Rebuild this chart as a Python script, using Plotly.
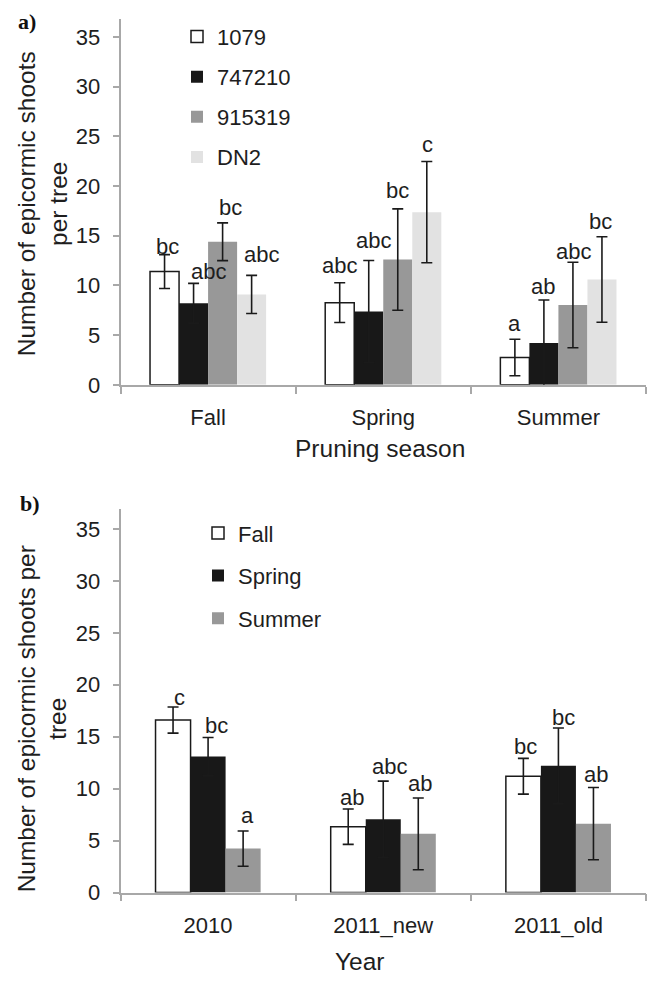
import plotly.graph_objects as go

# ---------------- data ----------------
seasons = ["Fall", "Spring", "Summer"]
clones = ["1079", "747210", "915319", "DN2"]
# means per clone across seasons
mean_1079 = [11.4, 8.27, 2.75]
mean_747210 = [8.21, 7.38, 4.2]
mean_915319 = [14.4, 12.61, 8.04]
mean_DN2 = [9.1, 17.38, 10.6]
err_1079 = [1.7, 2.0, 1.84]
err_747210 = [2.0, 5.13, 4.34]
err_915319 = [1.9, 5.1, 4.3]
err_DN2 = [1.92, 5.1, 4.3]
letters_1079 = ["bc", "abc", "a"]
letters_747210 = ["abc", "abc", "ab"]
letters_915319 = ["bc", "bc", "abc"]
letters_DN2 = ["abc", "c", "bc"]
# vertical position (data units) of the significance letters
lab_y_1079 = [13.9, 11.99, 6.13]
lab_y_747210 = [11.42, 14.57, 9.86]
lab_y_915319 = [17.8, 19.53, 13.41]
lab_y_DN2 = [13.08, 24.16, 16.48]

years = ["2010", "2011_new", "2011_old"]
season_names = ["Fall", "Spring", "Summer"]
mean_fall = [16.6, 6.34, 11.19]
mean_spring = [13.09, 7.05, 12.2]
mean_summer = [4.23, 5.65, 6.63]
err_fall = [1.26, 1.7, 1.72]
err_spring = [1.84, 3.67, 3.64]
err_summer = [1.7, 3.45, 3.48]
letters_fall = ["c", "ab", "bc"]
letters_spring = ["bc", "abc", "bc"]
letters_summer = ["a", "ab", "ab"]
lab_y_fall = [18.78, 9.14, 14.1]
lab_y_spring = [16.1, 12.14, 16.83]
lab_y_summer = [7.39, 10.49, 11.35]

y_ticks = [0, 5, 10, 15, 20, 25, 30, 35]

# ---------------- styling ----------------
W, H = 648, 984
FONT = "Liberation Sans, Arial, sans-serif"
SERIF = "Liberation Serif, Times New Roman, serif"
TXT = "#1e1e1e"
AXC = "#a8a8a8"
colors_a = ["#ffffff", "#181818", "#989898", "#e2e2e2"]
colors_b = ["#ffffff", "#181818", "#989898"]
TICK_SIZE = 22
TITLE_SIZE = 24.5

x0p, x1p = 120.5 / W, 646 / W
dom_a = [1 - 390 / H, 1 - 19 / H]
dom_b = [1 - 904.5 / H, 1 - 516 / H]

fig = go.Figure()

# panel a bars
bw_a = 0.1657
offs_a = [-2 * bw_a, -bw_a, 0, bw_a]
means_a = [mean_1079, mean_747210, mean_915319, mean_DN2]
errs_a = [err_1079, err_747210, err_915319, err_DN2]
lets_a = [letters_1079, letters_747210, letters_915319, letters_DN2]
laby_a = [lab_y_1079, lab_y_747210, lab_y_915319, lab_y_DN2]
lab_dx_a = [[2.5, 0, 0], [14.5, 5, -1], [7.5, 0, 1], [9.5, 1, -1]]

for i, name in enumerate(clones):
    fig.add_trace(go.Bar(
        x=seasons, y=means_a[i], name=name, xaxis="x", yaxis="y",
        width=bw_a, offset=offs_a[i],
        marker=dict(color=colors_a[i],
                    line=dict(color="#1a1a1a" if i == 0 else colors_a[i], width=1.5 if i == 0 else 0)),
        error_y=dict(type="data", array=errs_a[i], visible=True, color="#1a1a1a",
                     thickness=1.6, width=5.5),
        legend="legend", legendgroup=name,
    ))

# panel b bars
bw_b = 0.2
offs_b = [-0.3, -0.1, 0.1]
means_b = [mean_fall, mean_spring, mean_summer]
errs_b = [err_fall, err_spring, err_summer]
lets_b = [letters_fall, letters_spring, letters_summer]
laby_b = [lab_y_fall, lab_y_spring, lab_y_summer]
lab_dx_b = [[6.5, 4, 2], [8.5, 6, 4.7], [4.5, 2, 2.8]]

for i, name in enumerate(season_names):
    fig.add_trace(go.Bar(
        x=years, y=means_b[i], name=name, xaxis="x2", yaxis="y2",
        width=bw_b, offset=offs_b[i],
        marker=dict(color=colors_b[i],
                    line=dict(color="#1a1a1a" if i == 0 else colors_b[i], width=1.5 if i == 0 else 0)),
        error_y=dict(type="data", array=errs_b[i], visible=True, color="#1a1a1a",
                     thickness=1.6, width=5.5),
        legend="legend2", legendgroup="b" + name,
    ))

annotations = []
for i in range(len(clones)):
    for j in range(len(seasons)):
        annotations.append(dict(
            x=j + offs_a[i] + bw_a / 2, y=laby_a[i][j], xref="x", yref="y",
            text=lets_a[i][j], showarrow=False, xshift=lab_dx_a[i][j],
            font=dict(family=FONT, size=TICK_SIZE, color=TXT),
            xanchor="center", yanchor="middle"))
for i in range(len(season_names)):
    for j in range(len(years)):
        annotations.append(dict(
            x=j + offs_b[i] + bw_b / 2, y=laby_b[i][j], xref="x2", yref="y2",
            text=lets_b[i][j], showarrow=False, xshift=lab_dx_b[i][j],
            font=dict(family=FONT, size=TICK_SIZE, color=TXT),
            xanchor="center", yanchor="middle"))

# axis titles and panel labels
def paper_note(text, px, py, size, family=FONT, angle=0, color=TXT):
    return dict(text=text, x=px / W, y=1 - py / H, xref="paper", yref="paper",
                showarrow=False, textangle=angle, xanchor="center", yanchor="middle",
                font=dict(family=family, size=size, color=color))

annotations += [
    paper_note("Pruning season", 380, 454, TITLE_SIZE),
    paper_note("Year", 360, 974, TITLE_SIZE),
    paper_note("Number of epicormic shoots<br>per tree", 42, 207, TITLE_SIZE, angle=-90),
    paper_note("Number of epicormic shoots per<br>tree", 42, 729, TITLE_SIZE, angle=-90),
    paper_note("<b>a)</b>", 27, 22, 22, family=SERIF, color="#111"),
    paper_note("<b>b)</b>", 30, 510, 22, family=SERIF, color="#111"),
]

xaxis_common = dict(showline=True, linecolor=AXC, linewidth=1.5, ticks="outside",
                    tickson="boundaries", ticklen=7, tickcolor=AXC, tickwidth=1.5,
                    showgrid=False, zeroline=False, ticklabelstandoff=12,
                    tickfont=dict(family=FONT, size=TICK_SIZE, color=TXT), fixedrange=True)
yaxis_common = dict(showline=True, linecolor=AXC, linewidth=1.5, ticks="outside",
                    ticklen=6, tickcolor=AXC, tickwidth=1.5, showgrid=False, zeroline=False,
                    tickvals=y_ticks, ticklabelstandoff=8,
                    tickfont=dict(family=FONT, size=TICK_SIZE, color=TXT))

fig.update_layout(
    width=W, height=H, margin=dict(l=0, r=0, t=0, b=0),
    paper_bgcolor="white", plot_bgcolor="white",
    barmode="group", showlegend=True,
    xaxis=dict(domain=[x0p, x1p], anchor="y", range=[-0.5, 2.5], **xaxis_common),
    yaxis=dict(domain=dom_a, anchor="x", range=[0, 36.84], **yaxis_common),
    xaxis2=dict(domain=[x0p, x1p], anchor="y2", range=[-0.5, 2.5], **xaxis_common),
    yaxis2=dict(domain=dom_b, anchor="x2", range=[0, 36.9], **yaxis_common),
    legend=dict(x=177 / W, y=1 - 16 / H, xanchor="left", yanchor="top",
                font=dict(family=FONT, size=TICK_SIZE, color=TXT), tracegroupgap=8.5,
                bgcolor="rgba(0,0,0,0)", itemclick=False),
    legend2=dict(x=198 / W, y=1 - 519 / H, xanchor="left", yanchor="top",
                 font=dict(family=FONT, size=TICK_SIZE, color=TXT), tracegroupgap=11,
                 bgcolor="rgba(0,0,0,0)", itemclick=False),
    annotations=annotations,
)

fig.write_html("out.html")
